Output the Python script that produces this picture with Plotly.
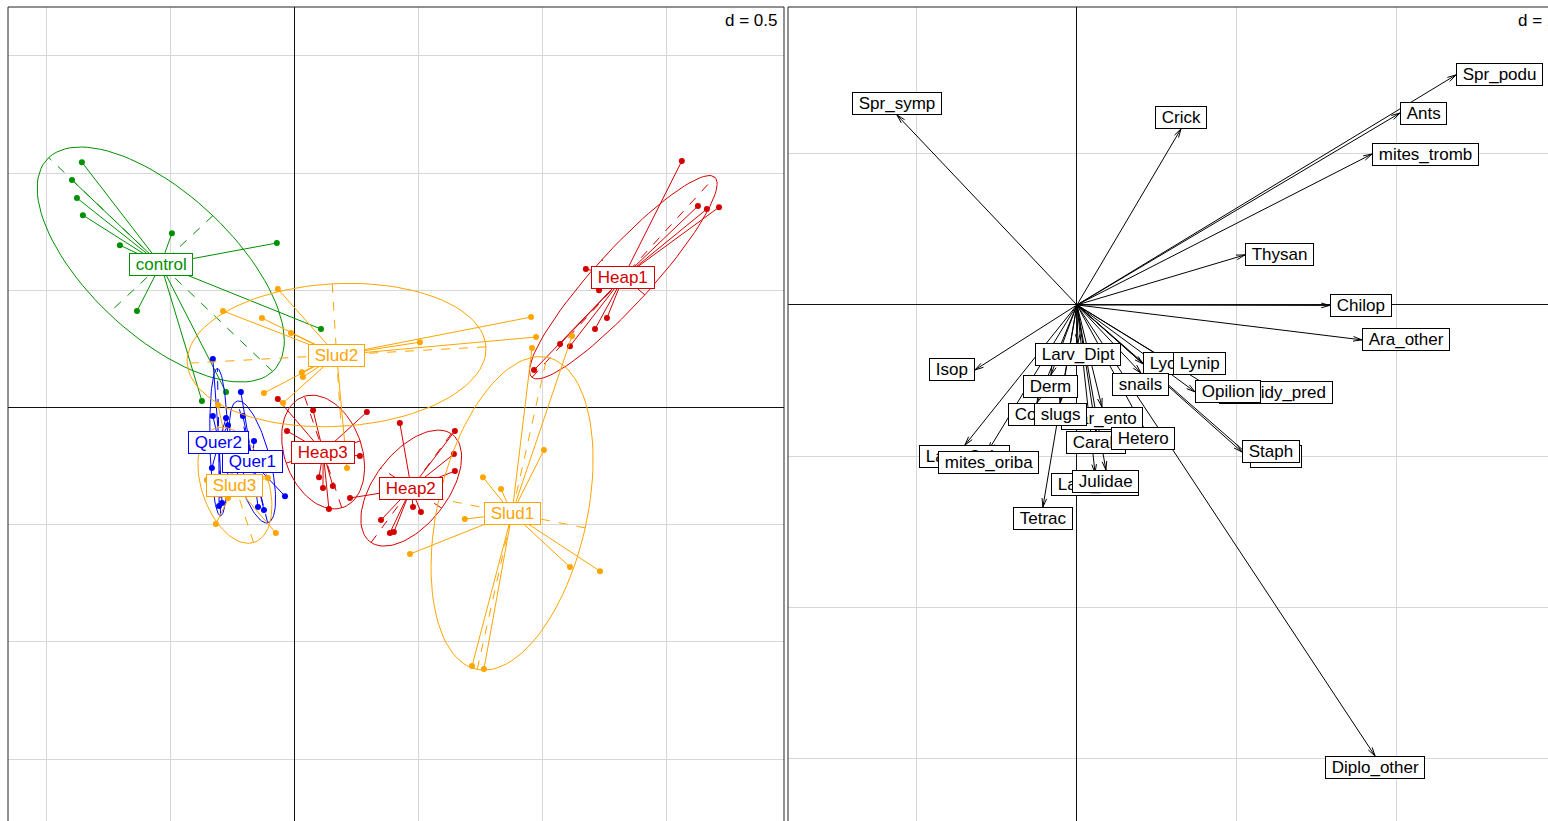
import numpy as np
import plotly.graph_objects as go

W, H = 1548, 821

# ---------------- left panel: sites grouped by treatment ----------------
group_names = ["control", "Heap1", "Heap2", "Heap3", "Quer1", "Quer2", "Slud1", "Slud2", "Slud3"]
group_colors = ["#009000", "#D40000", "#D40000", "#D40000", "#0000FF", "#0000FF",
                "#FFA500", "#FFA500", "#FFA500"]

control_x = [-0.859, -0.899, -0.879, -0.855, -0.706, -0.496, -0.073, -0.637, 0.105, -0.375, -0.278]
control_y = [1.047, 0.971, 0.894, 0.821, 0.693, 0.744, 0.702, 0.412, 0.335, 0.028, 0.066]
heap1_x = [1.560, 1.625, 1.661, 1.710, 1.173, 1.226, 1.258, 1.210, 1.069, 1.109, 0.964]
heap1_y = [1.052, 0.860, 0.847, 0.855, 0.591, 0.501, 0.382, 0.335, 0.271, 0.262, 0.160]
heap2_x = [0.423, 0.645, 0.641, 0.645, 0.476, 0.508, 0.347, 0.383, 0.399, 0.222]
heap2_y = [-0.066, -0.100, -0.198, -0.271, -0.424, -0.446, -0.480, -0.535, -0.531, -0.386]
heap3_x = [-0.069, 0.073, 0.290, -0.032, 0.262, 0.097, 0.153, 0.113, 0.137]
heap3_y = [0.036, -0.011, -0.019, -0.100, -0.207, -0.297, -0.335, -0.343, -0.433]
quer1_x = [-0.218, -0.210, -0.165, -0.040, -0.125, -0.149, -0.222, -0.238]
quer1_y = [0.066, -0.036, -0.143, -0.378, -0.437, -0.424, -0.301, -0.203]
quer2_x = [-0.331, -0.331, -0.335, -0.306, -0.294, -0.270, -0.278]
quer2_y = [0.207, -0.036, -0.258, -0.420, -0.407, -0.075, -0.045]
slud1_x = [1.004, 0.758, 0.831, 0.685, 0.464, 1.109, 1.230, 0.714, 0.762, 0.956, 1.117]
slud1_y = [-0.181, -0.297, -0.348, -0.476, -0.625, -0.680, -0.698, -1.103, -1.116, 0.254, 0.305]
slud2_x = [0.952, 0.972, -0.069, -0.290, -0.133, -0.016, 0.028, 0.032, -0.125, -0.048, 0.504, 0.210]
slud2_y = [0.386, 0.301, 0.506, 0.412, 0.382, 0.318, 0.151, 0.130, 0.062, 0.019, 0.279, -0.258]
slud3_x = [-0.310, -0.319, -0.077, -0.109, -0.355, -0.270, -0.254]
slud3_y = [0.011, -0.497, -0.535, -0.301, -0.309, -0.386, -0.301]

group_x = [control_x, heap1_x, heap2_x, heap3_x, quer1_x, quer2_x, slud1_x, slud2_x, slud3_x]
group_y = [control_y, heap1_y, heap2_y, heap3_y, quer1_y, quer2_y, slud1_y, slud2_y, slud3_y]

# ---------------- right panel: species arrows ----------------
species = ["Spr_symp", "Crick", "Spr_podu", "Ants", "mites_tromb", "Thysan", "Chilop",
           "Ara_other", "Isop", "Diplo_other", "Tetrac", "Larv_Cole", "mites_oriba",
           "Coleo", "Par_ento", "slugs", "Carab", "Hetero", "Larv_Lepi", "Julidae",
           "Lycos", "Lynip", "snails", "Empidy_pred", "Opilion", "Acari", "Staph",
           "Derm", "Larv_Dipt"]
species_x = [-1.125, 0.650, 2.369, 2.019, 1.844, 1.050, 1.581, 1.781, -0.638, 1.863,
             -0.213, -0.700, -0.556, -0.250, 0.156, -0.106, 0.119, 0.413, 0.113, 0.181,
             0.413, 0.600, 0.400, 0.890, 0.738, 1.081, 1.031, -0.163, 0.006]
species_y = [1.256, 1.164, 1.521, 1.269, 0.998, 0.331, -0.003, -0.231, -0.430, -2.982,
             -1.336, -0.926, -0.965, -0.648, -0.674, -0.648, -0.833, -0.807, -1.111, -1.091,
             -0.390, -0.390, -0.450, -0.582, -0.575, -1.000, -0.972, -0.463, -0.251]

# ---------------- layout geometry ----------------
L_DOM_X = [8 / W, 784 / W]
R_DOM_X = [788 / W, 1.0]
DOM_Y = [0.0, 1 - 7 / H]
L_XR = [-1.157, 1.972]
L_YR = [-1.764, 1.709]
R_XR = [-1.806, 2.944]
R_YR = [-3.412, 1.970]

FONT = "Liberation Sans, Arial, sans-serif"
FS = 17
GRID = "#D7D7D7"

fig = go.Figure()


def ellipse(xs, ys, coeff=1.5, n=100):
    xs = np.asarray(xs); ys = np.asarray(ys)
    mx, my = xs.mean(), ys.mean()
    cov = np.array([[np.mean((xs - mx) ** 2), np.mean((xs - mx) * (ys - my))],
                    [np.mean((xs - mx) * (ys - my)), np.mean((ys - my) ** 2)]])
    vals, vecs = np.linalg.eigh(cov)
    l2, l1 = np.sqrt(np.maximum(vals, 0))
    v2, v1 = vecs[:, 0], vecs[:, 1]
    t = np.linspace(0, 2 * np.pi, n + 1)
    ex = mx + coeff * (l1 * np.cos(t) * v1[0] + l2 * np.sin(t) * v2[0])
    ey = my + coeff * (l1 * np.cos(t) * v1[1] + l2 * np.sin(t) * v2[1])
    a1 = (mx - coeff * l1 * v1[0], mx + coeff * l1 * v1[0], my - coeff * l1 * v1[1], my + coeff * l1 * v1[1])
    a2 = (mx - coeff * l2 * v2[0], mx + coeff * l2 * v2[0], my - coeff * l2 * v2[1], my + coeff * l2 * v2[1])
    ax_x = [a1[0], a1[1], None, a2[0], a2[1]]
    ax_y = [a1[2], a1[3], None, a2[2], a2[3]]
    return mx, my, ex, ey, ax_x, ax_y


annotations = []
for name, col, xs, ys in zip(group_names, group_colors, group_x, group_y):
    mx, my, ex, ey, axx, axy = ellipse(xs, ys)
    sx, sy = [], []
    for x, y in zip(xs, ys):
        sx += [mx, x, None]
        sy += [my, y, None]
    fig.add_trace(go.Scatter(x=sx, y=sy, mode="lines", line=dict(color=col, width=1),
                             xaxis="x", yaxis="y", hoverinfo="skip"))
    fig.add_trace(go.Scatter(x=ex, y=ey, mode="lines", line=dict(color=col, width=1),
                             xaxis="x", yaxis="y", hoverinfo="skip"))
    fig.add_trace(go.Scatter(x=axx, y=axy, mode="lines", line=dict(color=col, width=1, dash="dash"),
                             xaxis="x", yaxis="y", hoverinfo="skip"))
    fig.add_trace(go.Scatter(x=xs, y=ys, mode="markers", marker=dict(color=col, size=6),
                             xaxis="x", yaxis="y", hoverinfo="skip"))
    annotations.append(dict(x=mx, y=my, xref="x", yref="y", text="\u00a0" + name + "\u00a0",
                            showarrow=False, font=dict(family=FONT, size=FS, color=col),
                            bgcolor="white", bordercolor=col, borderwidth=1, borderpad=1,
                            xanchor="center", yanchor="middle"))

# arrows (right panel)
ppx = (R_DOM_X[1] - R_DOM_X[0]) * W / (R_XR[1] - R_XR[0])
ppy = (DOM_Y[1] - DOM_Y[0]) * H / (R_YR[1] - R_YR[0])
head_len, head_ang = 9.0, np.deg2rad(15)
axs, ays = [], []
for x, y in zip(species_x, species_y):
    axs += [0, x, None]
    ays += [0, y, None]
    dx, dy = x * ppx, y * ppy
    L = np.hypot(dx, dy)
    ux, uy = dx / L, dy / L
    for s in (1, -1):
        c, sn = np.cos(s * head_ang), np.sin(s * head_ang)
        rx, ry = ux * c - uy * sn, ux * sn + uy * c
        axs += [x - head_len * rx / ppx, x, None]
        ays += [y - head_len * ry / ppy, y, None]
fig.add_trace(go.Scatter(x=axs, y=ays, mode="lines", line=dict(color="black", width=1),
                         xaxis="x2", yaxis="y2", hoverinfo="skip"))

for name, x, y in zip(species, species_x, species_y):
    if x > y and x > -y:
        xa, ya = "left", "middle"
    elif x > y and x <= -y:
        xa, ya = "center", "top"
    elif x <= y and x <= -y:
        xa, ya = "right", "middle"
    else:
        xa, ya = "center", "bottom"
    annotations.append(dict(x=x, y=y, xref="x2", yref="y2", text="\u00a0" + name + "\u00a0",
                            showarrow=False, font=dict(family=FONT, size=FS, color="black"),
                            bgcolor="white", bordercolor="black", borderwidth=1, borderpad=1,
                            xanchor=xa, yanchor=ya))

annotations.append(dict(x=779 / W, y=1 - 21 / H, xref="paper", yref="paper", text="d = 0.5",
                        showarrow=False, xanchor="right", yanchor="middle",
                        font=dict(family=FONT, size=FS, color="black")))
annotations.append(dict(x=1516 / W, y=1 - 21 / H, xref="paper", yref="paper", text="d = 1",
                        showarrow=False, xanchor="left", yanchor="middle",
                        font=dict(family=FONT, size=FS, color="black")))

shapes = []
top = DOM_Y[1]
for x0 in (L_DOM_X[0], L_DOM_X[1], R_DOM_X[0]):
    shapes.append(dict(type="line", xref="paper", yref="paper", x0=x0, x1=x0, y0=-0.01, y1=top,
                       line=dict(color="#222222", width=1)))
shapes.append(dict(type="line", xref="paper", yref="paper", x0=L_DOM_X[0], x1=L_DOM_X[1],
                   y0=top, y1=top, line=dict(color="#222222", width=1)))
shapes.append(dict(type="line", xref="paper", yref="paper", x0=R_DOM_X[0], x1=1.01,
                   y0=top, y1=top, line=dict(color="#222222", width=1)))

axis_common = dict(showgrid=True, gridcolor=GRID, gridwidth=1, zeroline=True,
                   zerolinecolor="#111111", zerolinewidth=1, showticklabels=False,
                   ticks="", showline=False, fixedrange=True, tick0=0)

fig.update_layout(
    width=W, height=H, margin=dict(l=0, r=0, t=0, b=0),
    paper_bgcolor="white", plot_bgcolor="white", showlegend=False,
    xaxis=dict(domain=L_DOM_X, range=L_XR, dtick=0.5, anchor="y", **axis_common),
    yaxis=dict(domain=DOM_Y, range=L_YR, dtick=0.5, anchor="x", **axis_common),
    xaxis2=dict(domain=R_DOM_X, range=R_XR, dtick=1, anchor="y2", **axis_common),
    yaxis2=dict(domain=DOM_Y, range=R_YR, dtick=1, anchor="x2", **axis_common),
    annotations=annotations, shapes=shapes,
)

fig.write_html("out.html", config={"displayModeBar": False},
               post_script="document.body.style.margin='0px';document.body.style.overflow='hidden';")
